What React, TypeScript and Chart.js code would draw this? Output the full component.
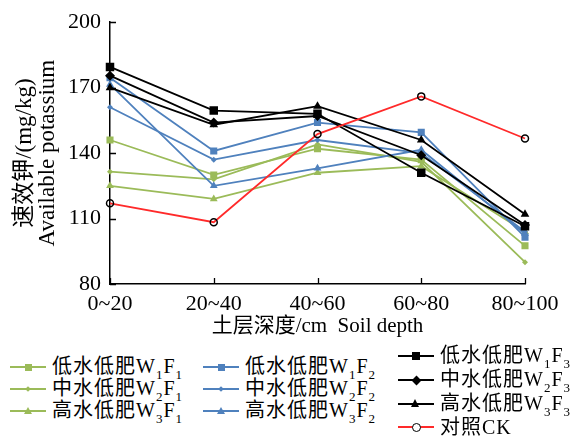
import React, { useEffect, useRef } from "react";
import { Chart, registerables } from "chart.js";

Chart.register(...registerables);

const categories = ["0~20", "20~40", "40~60", "60~80", "80~100"];
const seriesLabels = [
  "低水低肥W1F1", "中水低肥W2F1", "高水低肥W3F1",
  "低水低肥W1F2", "中水低肥W2F2", "高水低肥W3F2",
  "低水低肥W1F3", "中水低肥W2F3", "高水低肥W3F3",
  "对照CK",
];
const w1f1 = [146, 130, 142, 137, 97.5];
const w2f1 = [131.5, 128, 144, 136, 90];
const w3f1 = [125, 119, 131, 134, 104];
const w1f2 = [174.5, 141, 154, 149.5, 101.5];
const w2f2 = [161, 137, 146, 140, 104];
const w3f2 = [171.5, 125, 133, 141.5, 103];
const w1f3 = [179.5, 159.5, 158, 131, 106.5];
const w2f3 = [175.5, 154, 157, 139, 107];
const w3f3 = [170, 153, 161.5, 146, 112];
const ck = [117, 108.3, 148.7, 166, 146.7];
const yMin = 80;
const yMax = 200;
const yStep = 30;

const GREEN = "#9bbb59";
const BLUE = "#4f81bd";
const BLACK = "#000000";
const RED = "#ff2a2a";
const FONT = '"Liberation Serif", "Times New Roman", Times, "DejaVu Serif", serif, "Noto Sans CJK SC"';

type Style = { color: string; shape: string; r: number; fill: string; border: string };
const styles: Style[] = [
  { color: GREEN, shape: "rect", r: 5, fill: GREEN, border: GREEN },
  { color: GREEN, shape: "rectRot", r: 3, fill: GREEN, border: GREEN },
  { color: GREEN, shape: "triangle", r: 4.5, fill: GREEN, border: GREEN },
  { color: BLUE, shape: "rect", r: 5, fill: BLUE, border: BLUE },
  { color: BLUE, shape: "rectRot", r: 3, fill: BLUE, border: BLUE },
  { color: BLUE, shape: "triangle", r: 4.5, fill: BLUE, border: BLUE },
  { color: BLACK, shape: "rect", r: 6, fill: BLACK, border: BLACK },
  { color: BLACK, shape: "rectRot", r: 5, fill: BLACK, border: BLACK },
  { color: BLACK, shape: "triangle", r: 5, fill: BLACK, border: BLACK },
  { color: RED, shape: "circle", r: 3.5, fill: "rgba(0,0,0,0)", border: BLACK },
];
const seriesData = [w1f1, w2f1, w3f1, w1f2, w2f2, w3f2, w1f3, w2f3, w3f3, ck];
const drawOrder = [9, 8, 7, 6, 5, 4, 3, 2, 1, 0];

const innerTicks = {
  id: "innerTicks",
  afterDraw(chart: any) {
    const { ctx, chartArea, scales } = chart;
    const x = scales.x;
    const y = scales.y;
    ctx.save();
    ctx.strokeStyle = "#000";
    ctx.lineWidth = 1.3;
    ctx.beginPath();
    y.ticks.forEach((_t: any, i: number) => {
      const py = Math.round(y.getPixelForTick(i)) + 0.5;
      ctx.moveTo(chartArea.left, py);
      ctx.lineTo(chartArea.left + 6, py);
    });
    x.ticks.forEach((_t: any, i: number) => {
      const px = Math.round(x.getPixelForTick(i)) + 0.5;
      ctx.moveTo(px, chartArea.bottom);
      ctx.lineTo(px, chartArea.bottom - 6);
    });
    ctx.stroke();
    ctx.restore();
  },
};

function Marker({ s }: { s: Style }) {
  const base: React.CSSProperties = { position: "absolute", left: "50%", top: "50%" };
  if (s.shape === "rect") {
    const d = Math.round(s.r * 1.414);
    return <div style={{ ...base, width: d, height: d, marginLeft: -d / 2, marginTop: -d / 2, background: s.fill }} />;
  }
  if (s.shape === "rectRot") {
    const d = Math.round(s.r * 1.414);
    return <div style={{ ...base, width: d, height: d, marginLeft: -d / 2, marginTop: -d / 2, background: s.fill, transform: "rotate(45deg)" }} />;
  }
  if (s.shape === "triangle") {
    const h = Math.round(s.r * 1.6);
    return <div style={{ ...base, width: 0, height: 0, marginLeft: -h * 0.6, marginTop: -h / 2 - 1, borderLeft: `${h * 0.6}px solid transparent`, borderRight: `${h * 0.6}px solid transparent`, borderBottom: `${h}px solid ${s.fill}` }} />;
  }
  const d = Math.round(s.r * 2);
  return <div style={{ ...base, width: d, height: d, marginLeft: -d / 2 - 1, marginTop: -d / 2 - 1, borderRadius: "50%", border: `1.3px solid ${s.border}`, background: "#fff" }} />;
}

function LegendLabel({ text }: { text: string }) {
  const m = text.match(/^(.*)W(\d)F(\d)$/);
  const sub: React.CSSProperties = { fontSize: 13, position: "relative", top: 6, verticalAlign: "baseline" };
  if (!m) return <span>{text}</span>;
  return (
    <span>
      {m[1]}W<span style={sub}>{m[2]}</span>F<span style={sub}>{m[3]}</span>
    </span>
  );
}

const colLeft = [10, 203, 398];
const rowsA = [367, 389, 411];
const rowsC = [356, 380, 404, 427];

export default function App() {
  const ref = useRef<HTMLCanvasElement | null>(null);
  useEffect(() => {
    document.body.style.margin = "0";
    if (!ref.current) return;
    Chart.defaults.font.family = FONT;
    const chart = new Chart(ref.current, {
      type: "line",
      data: {
        labels: categories,
        datasets: seriesData.map((d, i) => ({
          label: seriesLabels[i],
          data: d,
          borderColor: styles[i].color,
          backgroundColor: styles[i].fill,
          pointStyle: styles[i].shape as any,
          pointRadius: styles[i].r,
          pointBackgroundColor: styles[i].fill,
          pointBorderColor: styles[i].border,
          pointBorderWidth: i === 9 ? 1.5 : 0,
          borderWidth: 1.8,
          tension: 0,
          order: drawOrder[i],
        })),
      },
      options: {
        animation: false,
        responsive: false,
        maintainAspectRatio: false,
        layout: { padding: { top: 20, right: 53, left: 0, bottom: 0 } },
        plugins: { legend: { display: false }, tooltip: { enabled: false } },
        scales: {
          x: {
            type: "category",
            offset: false,
            grid: { display: true, drawOnChartArea: false, drawTicks: false },
            border: { display: true, color: "#000", width: 1.5 },
            ticks: { color: "#000", font: { size: 22, family: FONT }, padding: 7, maxRotation: 0 },
            title: { display: true, text: "土层深度/cm  Soil depth", color: "#000", font: { size: 21, family: FONT }, padding: { top: 0, bottom: 6 } },
            afterFit: (s: any) => { s.height = 61; },
          },
          y: {
            min: yMin,
            max: yMax,
            grid: { display: true, drawOnChartArea: false, drawTicks: false },
            border: { display: true, color: "#000", width: 1.5 },
            ticks: { stepSize: yStep, color: "#000", font: { size: 22, family: FONT }, padding: 9 },
            title: { display: true, text: ["速效钾/(mg/kg)", "Available potassium"], color: "#000", font: { size: 23, family: FONT, lineHeight: 0.98 }, padding: { top: 14, bottom: 0 } },
            afterFit: (s: any) => { s.width = 110; },
          },
        },
      },
      plugins: [innerTicks],
    });
    return () => chart.destroy();
  }, []);

  const items = seriesLabels.map((lab, i) => {
    const col = Math.floor(i / 3) > 2 ? 2 : Math.floor(i / 3);
    const row = i === 9 ? 3 : i % 3;
    const top = col === 2 ? rowsC[row] : rowsA[row];
    return { lab, i, left: colLeft[col], top };
  });

  return (
    <div style={{ position: "relative", width: 578, height: 437, background: "#fff", overflow: "hidden", fontFamily: FONT }}>
      <canvas ref={ref} width={578} height={345} style={{ display: "block", width: 578, height: 345 }} />
      {items.map((it) => (
        <div key={it.i} style={{ position: "absolute", left: it.left, top: it.top - 12, height: 24, display: "flex", alignItems: "center", whiteSpace: "nowrap", fontSize: 20, lineHeight: "24px", letterSpacing: 1, color: "#000" }}>
          <div style={{ position: "relative", width: 36, height: 24, marginRight: 6 }}>
            <div style={{ position: "absolute", left: 0, right: 0, top: 11, height: 2, background: styles[it.i].color }} />
            <Marker s={styles[it.i]} />
          </div>
          <LegendLabel text={it.lab} />
        </div>
      ))}
    </div>
  );
}
